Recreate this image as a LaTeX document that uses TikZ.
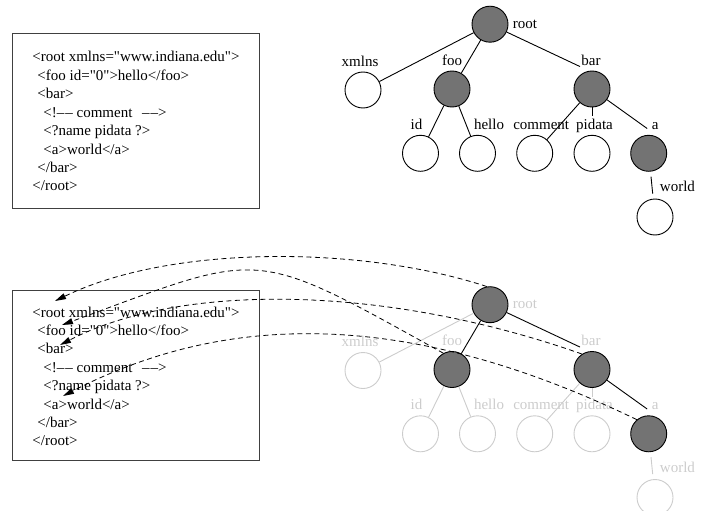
\documentclass[tikz,border=0pt]{standalone}
\usepackage{fontspec}
\setmainfont{Liberation Serif}
\usetikzlibrary{positioning, arrows.meta}

% the xml source, one node per line (#1 = name prefix)
\newcommand{\xmllines}[1]{%
  \node[xmlline] (#1l1) at (32,0)     {<root xmlns=\textquotedbl www.indiana.edu\textquotedbl>};
  \node[xmlline] (#1l2) at (37,18.4)  {<foo id=\textquotedbl 0\textquotedbl>hello</foo>};
  \node[xmlline] (#1l3) at (37,36.8)  {<bar>};
  \node[xmlline] (#1l4) at (43,55.2)  {<!--\kern1pt-- comment\hspace{6pt} --\kern1pt-->};
  \node[xmlline] (#1l5) at (43,73.6)  {<?name pidata ?>};
  \node[xmlline] (#1l6) at (43,92)    {<a>world</a>};
  \node[xmlline] (#1l7) at (37,110.4) {</bar>};
  \node[xmlline] (#1l8) at (32,128.8) {</root>};
}

% the node tree (#1 = name prefix, #2 = look of everything that is not an element)
\newcommand{\xmltree}[2]{%
  \node[elem] (#1root) at (490,24.2) {};
  \node[#2,leaf] (#1xmlns) at (363,90) {};
  \node[elem] (#1foo) at (452,89) {};
  \node[elem] (#1bar) at (592,89) {};
  \node[#2,leaf] (#1id) at (420.5,153.3) {};
  \node[#2,leaf] (#1hello) at (477.5,153.3) {};
  \node[#2,leaf] (#1comment) at (534.7,153.3) {};
  \node[#2,leaf] (#1pidata) at (592,153.3) {};
  \node[elem] (#1a) at (648.7,153.3) {};
  \node[#2,leaf] (#1world) at (655,217) {};
  % names
  \node[tag,#2,right=3pt of #1root] (#1root-t) {root};
  \node[tag,#2,above=4pt of #1xmlns,xshift=-3pt] (#1xmlns-t) {xmlns};
  \node[tag,#2,above=4pt of #1foo] (#1foo-t) {foo};
  \node[tag,#2,above=4pt of #1bar,xshift=-1pt] (#1bar-t) {bar};
  \node[tag,#2,above=4pt of #1id,xshift=-4pt] (#1id-t) {id};
  \node[tag,#2,above=4pt of #1hello,xshift=11.5pt] (#1hello-t) {hello};
  \node[tag,#2,above=4pt of #1comment,xshift=6.5pt] (#1comment-t) {comment};
  \node[tag,#2,above=4pt of #1pidata,xshift=2.5pt] (#1pidata-t) {pidata};
  \node[tag,#2,above=4pt of #1a,xshift=6.5pt] (#1a-t) {a};
  % branches
  \draw[#2] (#1root) -- (#1xmlns);
  \draw (#1root) -- (#1foo);
  \draw (#1root) -- (#1bar-t.south west);
  \draw[#2] (#1foo) -- (#1id);
  \draw[#2] (#1foo) -- (#1hello);
  \draw[#2] (#1bar) -- (#1comment);
  \draw[#2, shorten >=18.5pt] (#1bar) -- (#1pidata);
  \draw[shorten >=4pt] (#1bar) -- (#1a-t.south west);
  \draw[#2, shorten <=5pt, shorten >=5pt] (#1a) --
    node[tag,#2,anchor=base west,pos=0.75,xshift=6pt] (#1world-t) {world} (#1world);
}

\begin{document}
\begin{tikzpicture}[x=1pt, y=-1pt, line width=0.9pt,
    every node/.style={font=\fontsize{15}{18}\selectfont},
    elem/.style={circle, draw, fill=black!55, minimum size=36pt, inner sep=0pt},
    leaf/.style={circle, draw, fill=white, minimum size=36pt, inner sep=0pt},
    tag/.style={inner sep=1pt, text depth=0pt},
    plain/.style={},
    faded/.style={black!20},
    xmlline/.style={anchor=base west, inner sep=0pt},
    xmlbox/.style={draw=black!75, line width=1pt},
    link/.style={dash pattern=on 5pt off 3.5pt, line width=0.8pt, -{Triangle[length=11pt, width=6pt]}}
]
\useasboundingbox (0,0) rectangle (707,511);

% upper half: source and tree
\draw[xmlbox] (12,34) rectangle (259,208);
\begin{scope}[shift={(0,62)}]
  \xmllines{t}
\end{scope}
\xmltree{t}{plain}

% lower half: the elements point back into the source
\draw[xmlbox] (12,290) rectangle (259,460);
\begin{scope}[shift={(0,317)}]
  \xmllines{b}
\end{scope}
\begin{scope}[shift={(0,280.5)}]
  \xmltree{b}{faded}
\end{scope}

\coordinate (tiproot) at (55,301);
\coordinate (tipfoo) at (62,325);
\coordinate (tipbar) at (60,345);
\coordinate (tipa) at (63,396);

\draw[link] (broot.100) .. controls (360,245) and (170,245) .. (tiproot);
\draw[link] (bfoo.118) .. controls (250,246) and (265,250) .. (tipfoo);
\draw[link] (bbar.123) .. controls (383,284) and (180,283) .. (tipbar);
\draw[link] (ba.130) .. controls (400,305) and (220,315) .. (tipa);
\end{tikzpicture}
\end{document}
